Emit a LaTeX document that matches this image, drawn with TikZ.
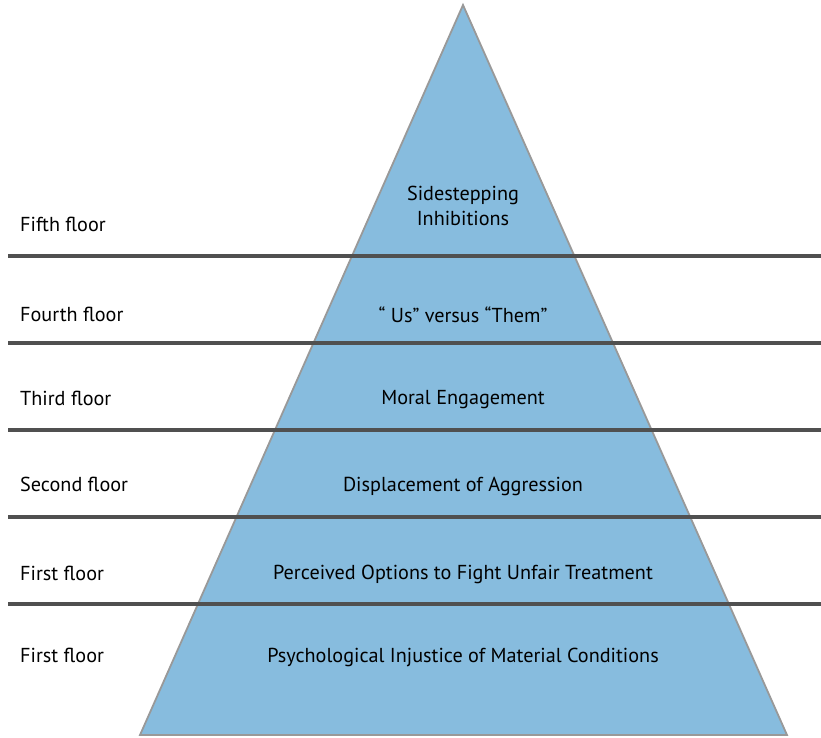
\documentclass[tikz,border=0pt]{standalone}
\usepackage{fontspec}
\setmainfont{PT Sans}
\definecolor{pyrfill}{HTML}{87BCDE}
\definecolor{pyredge}{HTML}{999999}
\definecolor{floorline}{HTML}{505050}
\begin{document}
\begin{tikzpicture}[x=1pt,y=-1pt,
  floorlabel/.style={anchor=west,font=\fontsize{20.2}{24}\selectfont,inner sep=0pt},
  levellabel/.style={anchor=center,align=center,font=\fontsize{20.2}{25}\selectfont,inner sep=0pt},
  floorrule/.style={draw=floorline,line width=3.2pt}]
\useasboundingbox (0,0) rectangle (821,737);
\coordinate (apex) at (463,5);
\coordinate (bl) at (140,735);
\coordinate (br) at (787,735);
\draw[fill=pyrfill,draw=pyredge,line width=1.8pt,line join=miter] (apex) -- (br) -- (bl) -- cycle;
\foreach \y/\n in {256/a,343/b,430/c,517/d,604/e}{
  \coordinate (l\n) at (8,\y);
  \coordinate (r\n) at (821,\y);
  \draw[floorrule] (l\n) -- (r\n);
}
\node[floorlabel] (f5) at (20,224) {Fifth floor};
\node[floorlabel] (f4) at (20,314) {Fourth floor};
\node[floorlabel] (f3) at (20,398) {Third floor};
\node[floorlabel] (f2) at (20,484) {Second floor};
\node[floorlabel] (f1) at (20,573) {First floor};
\node[floorlabel] (f0) at (20,655) {First floor};
\node[levellabel] (t5) at (463,206) {Sidestepping\\Inhibitions};
\node[levellabel] (t4) at (463,315) {“ Us” versus “Them”};
\node[levellabel] (t3) at (463,400) {Moral Engagement};
\node[levellabel] (t2) at (463,486) {Displacement of Aggression};
\node[levellabel] (t1) at (463,574) {Perceived Options to Fight Unfair Treatment};
\node[levellabel] (t0) at (463,657) {Psychological Injustice of Material Conditions};
\end{tikzpicture}
\end{document}
